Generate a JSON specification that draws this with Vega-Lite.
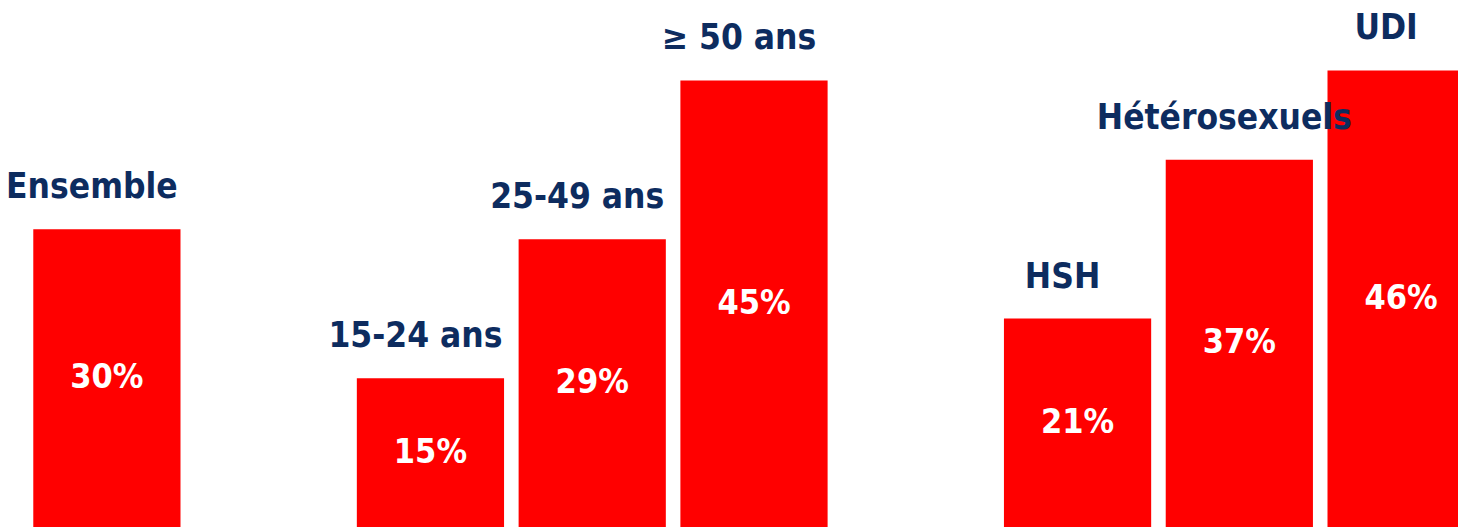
{
  "$schema": "https://vega.github.io/schema/vega-lite/v6.json",
  "width": 1458,
  "height": 527,
  "padding": 0,
  "autosize": {"type": "none"},
  "background": "#ffffff",
  "config": {"view": {"stroke": null}},
  "data": {
    "values": [
      {"cat": "Ensemble", "value": 30, "label": "30%"},
      {"cat": "15-24 ans", "value": 15, "label": "15%"},
      {"cat": "25-49 ans", "value": 29, "label": "29%"},
      {"cat": "≥ 50 ans", "value": 45, "label": "45%"},
      {"cat": "HSH", "value": 21, "label": "21%"},
      {"cat": "Hétérosexuels", "value": 37, "label": "37%"},
      {"cat": "UDI", "value": 46, "label": "46%"}
    ]
  },
  "encoding": {
    "x": {
      "field": "cat",
      "type": "nominal",
      "sort": null,
      "axis": null,
      "scale": {
        "domain": ["Ensemble", "gap1", "15-24 ans", "25-49 ans", "≥ 50 ans", "gap2", "HSH", "Hétérosexuels", "UDI"],
        "range": [26, 1482],
        "paddingInner": 0.09,
        "paddingOuter": 0.045
      }
    }
  },
  "layer": [
    {
      "mark": {"type": "bar", "color": "#ff0000", "clip": true},
      "encoding": {
        "y": {"field": "value", "type": "quantitative", "axis": null, "scale": {"domain": [0, 53.1]}}
      }
    },
    {
      "mark": {"type": "text", "font": "DejaVu Sans Condensed, Roboto, sans-serif", "fontWeight": "bold", "fontSize": 35, "color": "#0d2c5f", "baseline": "middle", "align": "center", "dy": -42, "dx": -15},
      "encoding": {
        "y": {"field": "value", "type": "quantitative", "axis": null, "scale": {"domain": [0, 53.1]}},
        "text": {"field": "cat"}
      }
    },
    {
      "mark": {"type": "text", "font": "DejaVu Sans Condensed, Roboto, sans-serif", "fontWeight": "bold", "fontSize": 34, "color": "#ffffff", "baseline": "middle", "align": "center"},
      "encoding": {
        "y": {"field": "value", "type": "quantitative", "axis": null, "scale": {"domain": [0, 106.2]}},
        "text": {"field": "label"}
      }
    }
  ],
  "resolve": {"scale": {"y": "independent"}}
}
